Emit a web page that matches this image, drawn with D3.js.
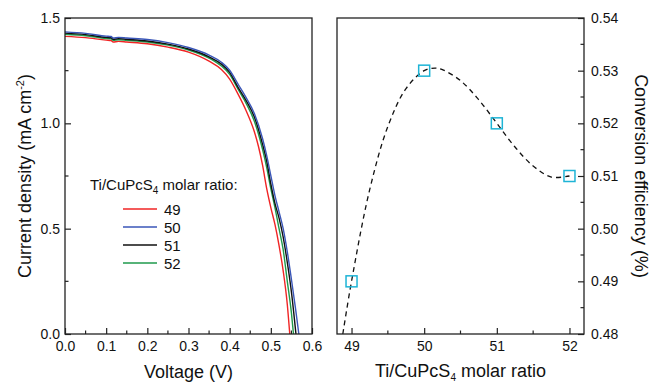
<!DOCTYPE html>
<html><head><meta charset="utf-8">
<script src="https://cdn.jsdelivr.net/npm/d3@7"></script>
<style>
body{margin:0;background:#fff;}
svg{font-family:"Liberation Sans",Arial,sans-serif;}
</style></head>
<body><svg id="c" width="653" height="382"></svg>
<script>
// ---- data ----
const seriesNames = ["49", "50", "51", "52"];
const seriesColors = ["#f02424", "#3a56b8", "#111111", "#1f9a4c"];
const v49 = [0,0.05,0.1,0.112,0.117,0.13,0.15,0.2,0.25,0.3,0.35,0.38,0.4,0.42,0.44,0.46,0.47,0.48,0.49,0.5,0.51,0.52,0.53,0.54,0.546];
const j49 = [1.413,1.407,1.395,1.393,1.386,1.389,1.386,1.378,1.362,1.338,1.295,1.255,1.21,1.14,1.06,0.96,0.89,0.8,0.69,0.6,0.52,0.42,0.3,0.14,0];
const v50 = [0,0.05,0.1,0.112,0.117,0.13,0.15,0.2,0.25,0.3,0.35,0.38,0.4,0.42,0.44,0.46,0.48,0.49,0.5,0.51,0.52,0.53,0.54,0.55,0.56,0.568];
const j50 = [1.434,1.427,1.414,1.412,1.405,1.408,1.405,1.398,1.383,1.36,1.324,1.29,1.252,1.187,1.122,1.047,0.927,0.847,0.752,0.657,0.58,0.5,0.39,0.26,0.12,0];
const v51 = [0,0.05,0.1,0.112,0.117,0.13,0.15,0.2,0.25,0.3,0.35,0.38,0.4,0.42,0.44,0.46,0.48,0.49,0.5,0.51,0.52,0.53,0.54,0.55,0.561];
const j51 = [1.428,1.421,1.408,1.406,1.399,1.402,1.399,1.391,1.376,1.353,1.316,1.281,1.242,1.172,1.108,1.03,0.9,0.82,0.712,0.62,0.55,0.46,0.34,0.2,0];
const v52 = [0,0.05,0.1,0.112,0.117,0.13,0.15,0.2,0.25,0.3,0.35,0.38,0.4,0.42,0.44,0.46,0.48,0.49,0.5,0.51,0.52,0.53,0.54,0.55,0.555];
const j52 = [1.423,1.416,1.403,1.401,1.394,1.397,1.394,1.386,1.371,1.348,1.31,1.272,1.232,1.163,1.095,1.01,0.875,0.79,0.69,0.6,0.5,0.4,0.25,0.1,0];
const voltTicks = [0,0.1,0.2,0.3,0.4,0.5,0.6];
const currTicks = [0,0.5,1.0,1.5];

const ratios = [49, 50, 51, 52];
const efficiency = [0.49, 0.53, 0.52, 0.51];
const fitX = [48.88,49,49.25,49.5,49.75,50,50.15,50.25,50.5,50.75,51,51.25,51.5,51.75,52];
const fitY = [0.480,0.490,0.5074,0.5194,0.5266,0.530,0.5305,0.5302,0.5281,0.5245,0.520,0.5155,0.5119,0.5098,0.510];
const ratioTicks = [49,50,51,52];
const effTicks = [0.48,0.49,0.50,0.51,0.52,0.53,0.54];

// ---- drawing ----
const svg = d3.select("#c");
const ink = "#222";

// Left panel
const L = {x0:65, x1:312, y0:18, y1:334};
const xV = d3.scaleLinear().domain([0,0.6]).range([L.x0,L.x1]);
const yJ = d3.scaleLinear().domain([0,1.5]).range([L.y1,L.y0]);

function styleAxis(g){
  g.selectAll(".domain").remove();
  g.selectAll("line").attr("stroke",ink).attr("stroke-width",1.2);
  g.selectAll("text").attr("font-size",14).attr("fill","#111").attr("font-family","Liberation Sans, Arial, sans-serif");
}
function minor(g, scale, vals, orient, len){
  vals.forEach(v=>{
    const p = scale(v);
    if(orient==="bottom") g.append("line").attr("x1",p).attr("x2",p).attr("y1",0).attr("y2",-len);
    if(orient==="left") g.append("line").attr("y1",p).attr("y2",p).attr("x1",0).attr("x2",len);
    if(orient==="right") g.append("line").attr("y1",p).attr("y2",p).attr("x1",0).attr("x2",-len);
  });
  g.selectAll("line").attr("stroke",ink).attr("stroke-width",1.2);
}

const gxL = svg.append("g").attr("transform",`translate(0,${L.y1})`)
  .call(d3.axisBottom(xV).tickValues(voltTicks).tickFormat(d3.format(".1f")).tickSizeInner(-6).tickSizeOuter(0).tickPadding(7));
styleAxis(gxL);
minor(gxL, xV, [0.05,0.15,0.25,0.35,0.45,0.55], "bottom", 3.5);

const gyL = svg.append("g").attr("transform",`translate(${L.x0},0)`)
  .call(d3.axisLeft(yJ).tickValues(currTicks).tickFormat(d3.format(".1f")).tickSizeInner(-6).tickSizeOuter(0).tickPadding(5));
styleAxis(gyL);
minor(gyL, yJ, [0.25,0.75,1.25], "left", 3.5);

const lineJ = d3.line().x(d=>xV(d[0])).y(d=>yJ(d[1])).curve(d3.curveMonotoneX);
const allV = [v49,v50,v51,v52], allJ = [j49,j50,j51,j52];
const drawOrder = [0,3,2,1];
drawOrder.forEach(i=>{
  const pts = allV[i].map((v,k)=>[v, allJ[i][k]]);
  svg.append("path").attr("d",lineJ(pts)).attr("fill","none")
    .attr("stroke",seriesColors[i]).attr("stroke-width",1.4);
});

svg.append("rect").attr("x",L.x0).attr("y",L.y0).attr("width",L.x1-L.x0).attr("height",L.y1-L.y0)
  .attr("fill","none").attr("stroke",ink).attr("stroke-width",1.3);

// Legend
const legT = svg.append("text").attr("x",90).attr("y",190).attr("font-size",15).attr("fill","#111");
legT.append("tspan").text("Ti/CuPcS");
legT.append("tspan").text("4").attr("font-size",10).attr("dy",4);
legT.append("tspan").text(" molar ratio:").attr("dy",-4);
seriesNames.forEach((n,i)=>{
  const y = 209 + i*18;
  svg.append("line").attr("x1",123).attr("x2",157).attr("y1",y).attr("y2",y)
    .attr("stroke",seriesColors[i]).attr("stroke-width",1.4);
  svg.append("text").attr("x",164).attr("y",y+5.5).attr("font-size",15).attr("fill","#111").text(n);
});

// Left axis titles
svg.append("text").attr("x",(L.x0+L.x1)/2).attr("y",378).attr("text-anchor","middle")
  .attr("font-size",18).attr("fill","#111").text("Voltage (V)");
const yt = svg.append("text").attr("transform",`translate(31,${(L.y0+L.y1)/2}) rotate(-90)`)
  .attr("text-anchor","middle").attr("font-size",18).attr("fill","#111");
yt.append("tspan").text("Current density (mA cm");
yt.append("tspan").text("-2").attr("font-size",11).attr("dy",-7);
yt.append("tspan").text(")").attr("dy",7);

// Right panel
const R = {x0:337, x1:584, y0:18, y1:334};
const xR = d3.scaleLinear().domain([48.8,52.2]).range([R.x0,R.x1]);
const yE = d3.scaleLinear().domain([0.48,0.54]).range([R.y1,R.y0]);

const gxR = svg.append("g").attr("transform",`translate(0,${R.y1})`)
  .call(d3.axisBottom(xR).tickValues(ratioTicks).tickFormat(d3.format("d")).tickSizeInner(-6).tickSizeOuter(0).tickPadding(7));
styleAxis(gxR);
minor(gxR, xR, [49.5,50.5,51.5], "bottom", 3.5);

const gyR = svg.append("g").attr("transform",`translate(${R.x1},0)`)
  .call(d3.axisRight(yE).tickValues(effTicks).tickFormat(d3.format(".2f")).tickSizeInner(-6).tickSizeOuter(0).tickPadding(7));
styleAxis(gyR);
minor(gyR, yE, [0.485,0.495,0.505,0.515,0.525,0.535], "right", 3.5);

const fitLine = d3.line().x(d=>xR(d[0])).y(d=>yE(d[1])).curve(d3.curveCatmullRom);
svg.append("path").attr("d",fitLine(fitX.map((x,i)=>[x,fitY[i]])))
  .attr("fill","none").attr("stroke","#111").attr("stroke-width",1.3).attr("stroke-dasharray","5,4");

svg.selectAll("rect.pt").data(ratios).enter().append("rect").attr("class","pt")
  .attr("x",(d)=>xR(d)-5.5).attr("y",(d,i)=>yE(efficiency[i])-5.5)
  .attr("width",11).attr("height",11).attr("fill","none")
  .attr("stroke","#1eb4d6").attr("stroke-width",1.5);

svg.append("rect").attr("x",R.x0).attr("y",R.y0).attr("width",R.x1-R.x0).attr("height",R.y1-R.y0)
  .attr("fill","none").attr("stroke",ink).attr("stroke-width",1.3);

const xt = svg.append("text").attr("x",(R.x0+R.x1)/2).attr("y",377).attr("text-anchor","middle")
  .attr("font-size",18).attr("fill","#111");
xt.append("tspan").text("Ti/CuPcS");
xt.append("tspan").text("4").attr("font-size",10).attr("dy",3.5);
xt.append("tspan").text(" molar ratio").attr("dy",-3.5);

svg.append("text").attr("transform",`translate(635,${(R.y0+R.y1)/2}) rotate(90)`)
  .attr("text-anchor","middle").attr("font-size",18).attr("fill","#111").text("Conversion efficiency (%)");
</script></body></html>
